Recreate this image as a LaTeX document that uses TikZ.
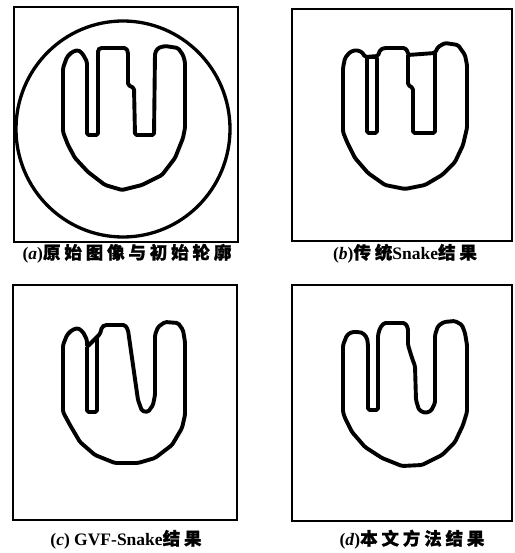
\documentclass[tikz,border=0pt]{standalone}
\usepackage{fontspec}
\setmainfont{Liberation Serif}
\newfontfamily\cjk{Noto Sans CJK SC}[FakeBold=1.0, LetterSpace=22]
\tikzset{
  framebox/.style={line width=1.3pt},
  contour/.style={line width=3.9pt, line join=round, rounded corners=1.6pt},
  caption/.style={font=\fontsize{17.5}{19}\selectfont\bfseries, inner sep=0pt, anchor=base}
}
\begin{document}
\begin{tikzpicture}[x=1pt,y=-1pt]
\useasboundingbox[fill=white] (0,0) rectangle (514,553);
% frames
\draw[framebox] (14,7) rectangle (238,242);
\draw[framebox] (292,9) rectangle (512,241);
\draw[framebox] (13,285) rectangle (237,520);
\draw[framebox] (292,285) rectangle (512,521);
% (a)
\draw[line width=3.3pt] (123,129) ellipse [x radius=107, y radius=108];
\draw[contour] (63,132) -- (63,68) -- (67,57) -- (72,52) -- (78,50) -- (82,53) -- (85,58) -- (87,62) -- (87,135) -- (98,135) -- (98,50) -- (100,48) -- (126,48) -- (128,52) -- (128,85) -- (134,88) -- (135,135) -- (154,135) -- (155,53) -- (158,48) -- (165,46) -- (178,48) -- (183,55) -- (185,62) -- (185,128) -- (183,138) -- (175,158) -- (162,175) -- (142,185) -- (122,190) -- (105,185) -- (88,172) -- (75,158) -- (68,145) -- cycle;
% (b)
\draw[contour] (343,132) -- (343,68) -- (345,58) -- (350,52) -- (356,50) -- (362,52) -- (365,57) -- (378,56) -- (380,50) -- (384,48) -- (405,48) -- (408,52) -- (408,55) -- (435,53) -- (438,47) -- (445,43) -- (458,45) -- (465,55) -- (467,65) -- (467,128) -- (463,145) -- (455,162) -- (442,175) -- (425,185) -- (405,189) -- (385,185) -- (368,173) -- (355,158) -- (347,142) -- cycle;
\draw[contour] (367,57) rectangle (377,133);
\draw[contour] (408,55) -- (408,85) -- (413,88) -- (413,133) -- (435,133) -- (435,53);
% (c)
\draw[contour] (63,412) -- (63,345) -- (67,335) -- (72,330) -- (78,328) -- (83,332) -- (87,340) -- (87,347) -- (100,334) -- (102,327) -- (105,325) -- (125,325) -- (128,330) -- (138,400) -- (142,411) -- (148,412) -- (153,405) -- (155,395) -- (155,335) -- (158,327) -- (165,322) -- (178,323) -- (183,330) -- (185,342) -- (185,415) -- (182,428) -- (172,445) -- (155,458) -- (138,463) -- (115,463) -- (95,455) -- (80,442) -- (70,425) -- cycle;
\draw[contour] (87,347) -- (87,412) -- (97,412) -- (97,337);
% (d)
\draw[contour] (343,412) -- (343,345) -- (347,335) -- (352,332) -- (358,332) -- (363,333) -- (367,338) -- (368,345) -- (368,410) -- (378,410) -- (378,335) -- (380,328) -- (384,323) -- (405,323) -- (408,328) -- (408,345) -- (412,358) -- (415,366) -- (416,400) -- (419,410) -- (425,413) -- (431,411) -- (435,403) -- (435,335) -- (438,326) -- (444,322) -- (455,321) -- (462,325) -- (465,333) -- (467,345) -- (467,412) -- (463,425) -- (455,442) -- (442,455) -- (422,465) -- (402,466) -- (382,458) -- (365,447) -- (352,432) -- (345,418) -- cycle;
% captions
\node[caption] (capa) at (127,259) {(\textit{a})\cjk 原始图像与初始轮廓};
\node[caption] (capb) at (405,259) {(\textit{b})\cjk 传统\rmfamily\bfseries Snake\cjk 结果};
\node[caption] (capc) at (126,545) {(\textit{c}) GVF-Snake\cjk 结果};
\node[caption] (capd) at (412,545) {(\textit{d})\cjk 本文方法结果};
\end{tikzpicture}
\end{document}
